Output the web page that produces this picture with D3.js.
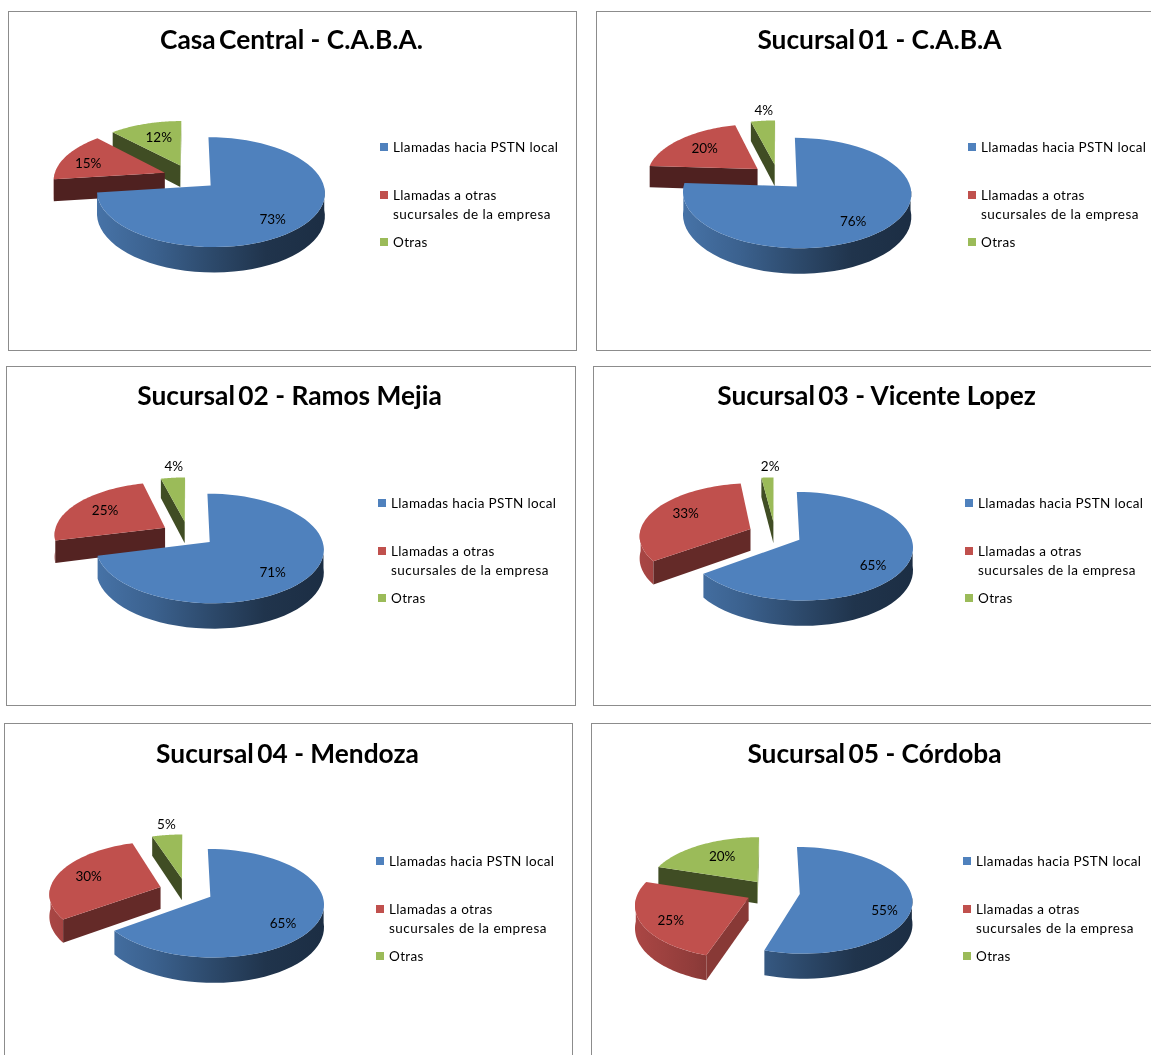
<!DOCTYPE html>
<html><head><meta charset="utf-8">
<script src="https://cdn.jsdelivr.net/npm/d3@7/dist/d3.min.js"></script>
<style>html,body{margin:0;padding:0;background:#fff}svg{display:block;filter:blur(.35px)}</style>
</head><body><svg id="c" width="1151" height="1055"></svg>
<script>
// ---- data ----
const titles = ["Casa Central - C.A.B.A.","Sucursal 01 - C.A.B.A","Sucursal 02 - Ramos Mejia","Sucursal 03 - Vicente Lopez","Sucursal 04 - Mendoza","Sucursal 05 - Córdoba"];
const seriesNames = ["Llamadas hacia PSTN local","Llamadas a otras sucursales de la empresa","Otras"];
const pstnLocal = [73,76,71,65,65,55];
const otrasSucursales = [15,20,25,33,30,25];
const otras = [12,4,4,2,5,20];
// ---- layout ----
const panelX = [8,596,6,593,4,591];
const panelY = [11,11,366,366,723,723];
const panelW = [568,570,569,570,568,570];
const panelH = [339,339,339,339,345,345];
const pieDy = [166,166,168,168,168,169];
const titleDy = [38,38,39,39,40,40];
const legendDy = [136,136,137,137,138,138];
const labelR = [[.72,.75,.62],[.68,.66,1.2],[.66,.66,1.2],[.68,.66,1.05],[.68,.7,.98],[.72,.8,.58]];
const labelNudgeY = [[6,3,-2],[6,-1,-3],[7,-1,-4],[8,-3,-9],[9,0,-12],[10,2,-4]];
const labelNudgeX = [[-4,-2,1],[-1,-1,3],[0,-1,3],[2,-1,3],[1,-1,-1],[4,7,-1]];
const colors = d3.scaleOrdinal([0,1,2],["#4f81bd","#c0504d","#9bbb59"]);
const R=111,K=.47,P=.117,DEPTH=22,EXPLODE=27;

const svg=d3.select("#c"), defs=svg.append("defs");
const pie=d3.pie().sort(null);
const line=d3.line();
const shadeFn=d3.scaleLinear().domain([90,144,173]).range([.8,.52,.41]).clamp(true);
const gradStops=[[0,.88],[.25,.75],[.5,.57],[.75,.4],[1,.36]];
const darken=(c,f)=>{const r=d3.rgb(c);return d3.rgb(r.r*f,r.g*f,r.b*f).formatHex();};

titles.forEach((title,pi)=>{
  const x0=panelX[pi],y0=panelY[pi];
  const g=svg.append("g");
  g.append("rect").attr("x",x0+.5).attr("y",y0+.5).attr("width",panelW[pi]).attr("height",panelH[pi])
    .attr("fill","#fff").attr("stroke","#8c8c8c").attr("stroke-width",1);
  const words=title.split(" ");
  const t=g.append("text").attr("x",x0+283.5).attr("y",y0+titleDy[pi]).attr("text-anchor","middle")
    .attr("font-family","Lato").attr("font-weight",700).attr("font-size",26.3).attr("fill","#000");
  t.append("tspan").text(words[0]+" ");
  t.append("tspan").attr("dx",-3).text(words.slice(1).join(" "));

  const cx=x0+182, cy=y0+pieDy[pi];
  const proj=(X,Y,Z)=>{const s=1/(1-P*Y/R);return [cx+X*s,cy+K*Y*s+Z*s];};
  const vals=[pstnLocal[pi],otrasSucursales[pi],otras[pi]];
  const arcs=pie(vals);
  const marks=g.append("g");
  const HALF=Math.PI/2;
  // painted back to front: last series first
  arcs.slice().reverse().forEach(a=>{
    const i=a.index, col=colors(i);
    const mid=(a.startAngle+a.endAngle)/2;
    const ox=EXPLODE*Math.sin(mid), oy=-EXPLODE*Math.cos(mid);
    const rim=(ang,Z,r=R)=>proj(ox+r*Math.sin(ang),oy-r*Math.cos(ang),Z);
    const angs=d3.range(61).map(j=>a.startAngle+(a.endAngle-a.startAngle)*j/60);
    const id=`g${pi}_${i}`;
    const grad=defs.append("linearGradient").attr("id",id).attr("gradientUnits","userSpaceOnUse")
      .attr("x1",cx+ox-R).attr("x2",cx+ox+R).attr("y1",0).attr("y2",0);
    gradStops.forEach(s=>grad.append("stop").attr("offset",s[0]).attr("stop-color",darken(col,s[1])));
    // outer wall: only the front half of the rim
    const front=angs.filter(b=>b>=HALF&&b<=3*HALF);
    if(front.length>1){
      const wall=front.map(b=>rim(b,0)).concat(front.slice().reverse().map(b=>rim(b,DEPTH)));
      marks.append("path").attr("d",line(wall)+"Z").attr("fill",`url(#${id})`);
    }
    // radial walls: only those facing the viewer
    [[a.startAngle,-HALF],[a.endAngle,HALF]].forEach(([ang,d])=>{
      const na=ang+d;
      if(-Math.cos(na)<=0) return;
      const n=((na*180/Math.PI)%360+360)%360;
      const pts=[rim(ang,0,0),rim(ang,0),rim(ang,DEPTH),rim(ang,DEPTH,0)];
      marks.append("path").attr("d",line(pts)+"Z").attr("fill",darken(col,shadeFn(n)));
    });
    // top face
    const top=[rim(0,0,0)].concat(angs.map(b=>rim(b,0)));
    marks.append("path").attr("d",line(top)+"Z").attr("fill",col);
    // data label
    const lp=rim(mid,0,labelR[pi][i]*R);
    g.append("text").attr("x",lp[0]+labelNudgeX[pi][i]).attr("y",lp[1]+labelNudgeY[pi][i]).attr("text-anchor","middle")
      .attr("dominant-baseline","central").attr("font-family","Lato").attr("font-size",13.5).attr("fill","#000")
      .text(a.value+"%");
  });

  // legend
  const lx=x0+372, ly=y0+legendDy[pi];
  const legendRows=[[0,0,[seriesNames[0]]],[1,48,["Llamadas a otras","sucursales de la empresa"]],[2,95,[seriesNames[2]]]];
  legendRows.forEach(([i,dy,lines])=>{
    g.append("rect").attr("x",lx).attr("y",ly+dy-4).attr("width",8).attr("height",8).attr("fill",colors(i));
    lines.forEach((s,k)=>g.append("text").attr("x",lx+13).attr("y",ly+dy+k*19).attr("dominant-baseline","central")
      .attr("font-family","Lato").attr("font-size",13.5).attr("letter-spacing",k?.5:.35).attr("fill","#000").text(s));
  });
});
</script></body></html>
